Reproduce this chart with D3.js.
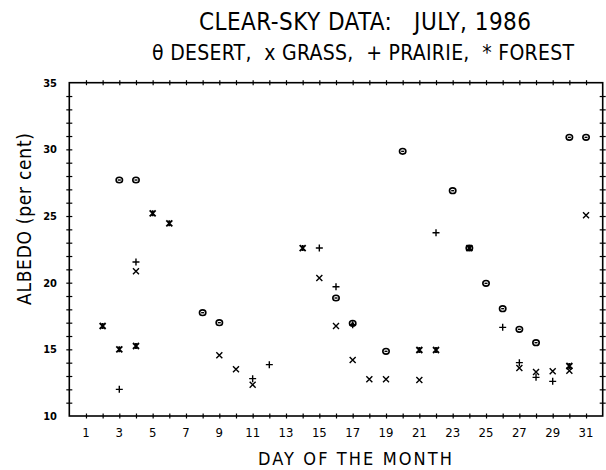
<!DOCTYPE html>
<html>
<head>
<meta charset="utf-8">
<script src="https://cdn.jsdelivr.net/npm/d3@7"></script>
<style>
  body { margin: 0; background: #fff; }
  text { font-family: "DejaVu Sans Condensed", "DejaVu Sans", sans-serif; fill: #000; }
</style>
</head>
<body>
<div id="chart"></div>
<script>
// albedo readings, july 1986 (day of month, per cent)
var desertDays  = [3, 4, 8, 9, 16, 17, 19, 20, 23, 24, 25, 26, 27, 28, 30, 31];
var desertVals  = [27.7, 27.7, 17.75, 17.0, 18.85, 16.95, 14.85, 29.85, 26.9, 22.6, 19.95, 18.05, 16.5, 15.5, 30.9, 30.9];

var grassDays   = [4, 9, 10, 11, 15, 16, 17, 18, 19, 21, 27, 28, 29, 30, 31];
var grassVals   = [20.85, 14.55, 13.5, 12.35, 20.35, 16.75, 14.2, 12.75, 12.75, 12.7, 13.6, 13.3, 13.35, 13.4, 25.05];

var prairieDays = [3, 4, 11, 12, 15, 16, 17, 22, 26, 27, 28, 29];
var prairieVals = [12.0, 21.55, 12.8, 13.85, 22.6, 19.7, 16.85, 23.75, 16.65, 14.0, 12.9, 12.6];

var forestDays  = [2, 3, 4, 5, 6, 14, 21, 22, 24, 30];
var forestVals  = [16.75, 15.0, 15.25, 25.2, 24.45, 22.6, 14.95, 14.95, 22.6, 13.75];

var xTickLabels = [1, 3, 5, 7, 9, 11, 13, 15, 17, 19, 21, 23, 25, 27, 29, 31];
var yTickLabels = [10, 15, 20, 25, 30, 35];

var width = 606, height = 470;
var pLeft = 69.3, pRight = 602.7, pTop = 82.7, pBottom = 416;

var svg = d3.select("#chart").append("svg")
    .attr("width", width)
    .attr("height", height)

var x = d3.scaleLinear().domain([0, 32]).range([pLeft, pRight])
var y = d3.scaleLinear().domain([10, 35]).range([pBottom, pTop])

// frame
svg.append("rect")
    .attr("x", pLeft).attr("y", pTop)
    .attr("width", pRight - pLeft).attr("height", pBottom - pTop)
    .attr("fill", "none").attr("stroke", "#000").attr("stroke-width", 1.6)

var dayTicks = d3.range(1, 32)
var valTicks = d3.range(11, 35)

function noDomain(sel) {
    sel.select(".domain").remove()
}

// ticks cross the frame lines
var xb = svg.append("g").attr("transform", "translate(0," + pBottom + ")")
    .call(d3.axisBottom(x).tickValues(dayTicks).tickSize(2.5).tickFormat(""))
    .call(noDomain)
xb.selectAll(".tick line").attr("y1", -2.5).attr("stroke-width", 1.2)

var xt = svg.append("g").attr("transform", "translate(0," + pTop + ")")
    .call(d3.axisTop(x).tickValues(dayTicks).tickSize(2.5).tickFormat(""))
    .call(noDomain)
xt.selectAll(".tick line").attr("y1", 2.5).attr("stroke-width", 1.2)

var yl = svg.append("g").attr("transform", "translate(" + pLeft + ",0)")
    .call(d3.axisLeft(y).tickValues(valTicks).tickSize(3).tickFormat(""))
    .call(noDomain)
yl.selectAll(".tick line").attr("x1", 3).attr("stroke-width", 1.2)

var yr = svg.append("g").attr("transform", "translate(" + pRight + ",0)")
    .call(d3.axisRight(y).tickValues(valTicks).tickSize(3).tickFormat(""))
    .call(noDomain)
yr.selectAll(".tick line").attr("x1", -3).attr("stroke-width", 1.2)

// tick labels
svg.append("g").selectAll("text")
    .data(xTickLabels).enter().append("text")
    .attr("x", function(d){ return x(d) })
    .attr("y", 437)
    .attr("text-anchor", "middle")
    .attr("font-size", 13)
    .text(function(d){ return d })

svg.append("g").selectAll("text")
    .data(yTickLabels).enter().append("text")
    .attr("x", 57)
    .attr("y", function(d){ return y(d) + 4 })
    .attr("text-anchor", "end")
    .attr("font-size", 11)
    .attr("font-weight", "bold")
    .text(function(d){ return d })

// titles (stretched to the plotter lettering widths)
svg.append("text")
    .attr("x", 199).attr("y", 30)
    .attr("font-size", 24)
    .attr("xml:space", "preserve")
    .attr("textLength", 332).attr("lengthAdjust", "spacing")
    .text("CLEAR-SKY DATA:   JULY, 1986")

svg.append("text")
    .attr("x", 152).attr("y", 60)
    .attr("font-size", 21)
    .attr("xml:space", "preserve")
    .attr("textLength", 422).attr("lengthAdjust", "spacing")
    .text("\u03B8 DESERT,  x GRASS,  + PRAIRIE,  * FOREST")

svg.append("text")
    .attr("x", 258).attr("y", 465)
    .attr("font-size", 18)
    .attr("textLength", 194).attr("lengthAdjust", "spacing")
    .text("DAY OF THE MONTH")

svg.append("text")
    .attr("transform", "translate(31,305) rotate(-90)")
    .attr("font-size", 19)
    .attr("textLength", 172).attr("lengthAdjust", "spacing")
    .text("ALBEDO (per cent)")

// markers
var marks = svg.append("g")
    .attr("fill", "none")
    .attr("stroke", "#000")
    .attr("stroke-width", 1.4)

function pts(days, vals) {
    return days.map(function(d, i){ return {day: d, val: vals[i]} })
}

function place(d) {
    return "translate(" + x(d.day) + "," + y(d.val) + ")"
}

var s = 3
marks.selectAll(".desert").data(pts(desertDays, desertVals)).enter().append("g")
    .attr("class", "desert")
    .attr("transform", place)
    .each(function(d){
        var g = d3.select(this)
        g.append("ellipse").attr("rx", 3.2).attr("ry", 2.8).attr("stroke-width", 1.6)
        g.append("line").attr("x1", -1.5).attr("x2", 1.5).attr("y1", 0).attr("y2", 0)
    })

marks.selectAll(".grass").data(pts(grassDays, grassVals)).enter().append("path")
    .attr("class", "grass")
    .attr("transform", place)
    .attr("d", "M" + -s + "," + -s + "L" + s + "," + s + "M" + -s + "," + s + "L" + s + "," + -s)

marks.selectAll(".prairie").data(pts(prairieDays, prairieVals)).enter().append("path")
    .attr("class", "prairie")
    .attr("transform", place)
    .attr("d", "M-3.5,0L3.5,0M0,-3.5L0,3.5")

marks.selectAll(".forest").data(pts(forestDays, forestVals)).enter().append("path")
    .attr("class", "forest")
    .attr("transform", place)
    .attr("stroke-width", 1.8)
    .attr("d", "M" + -s + "," + -s + "L" + s + "," + s + "M" + -s + "," + s + "L" + s + "," + -s + "M0,-3L0,3")
</script>
</body>
</html>
